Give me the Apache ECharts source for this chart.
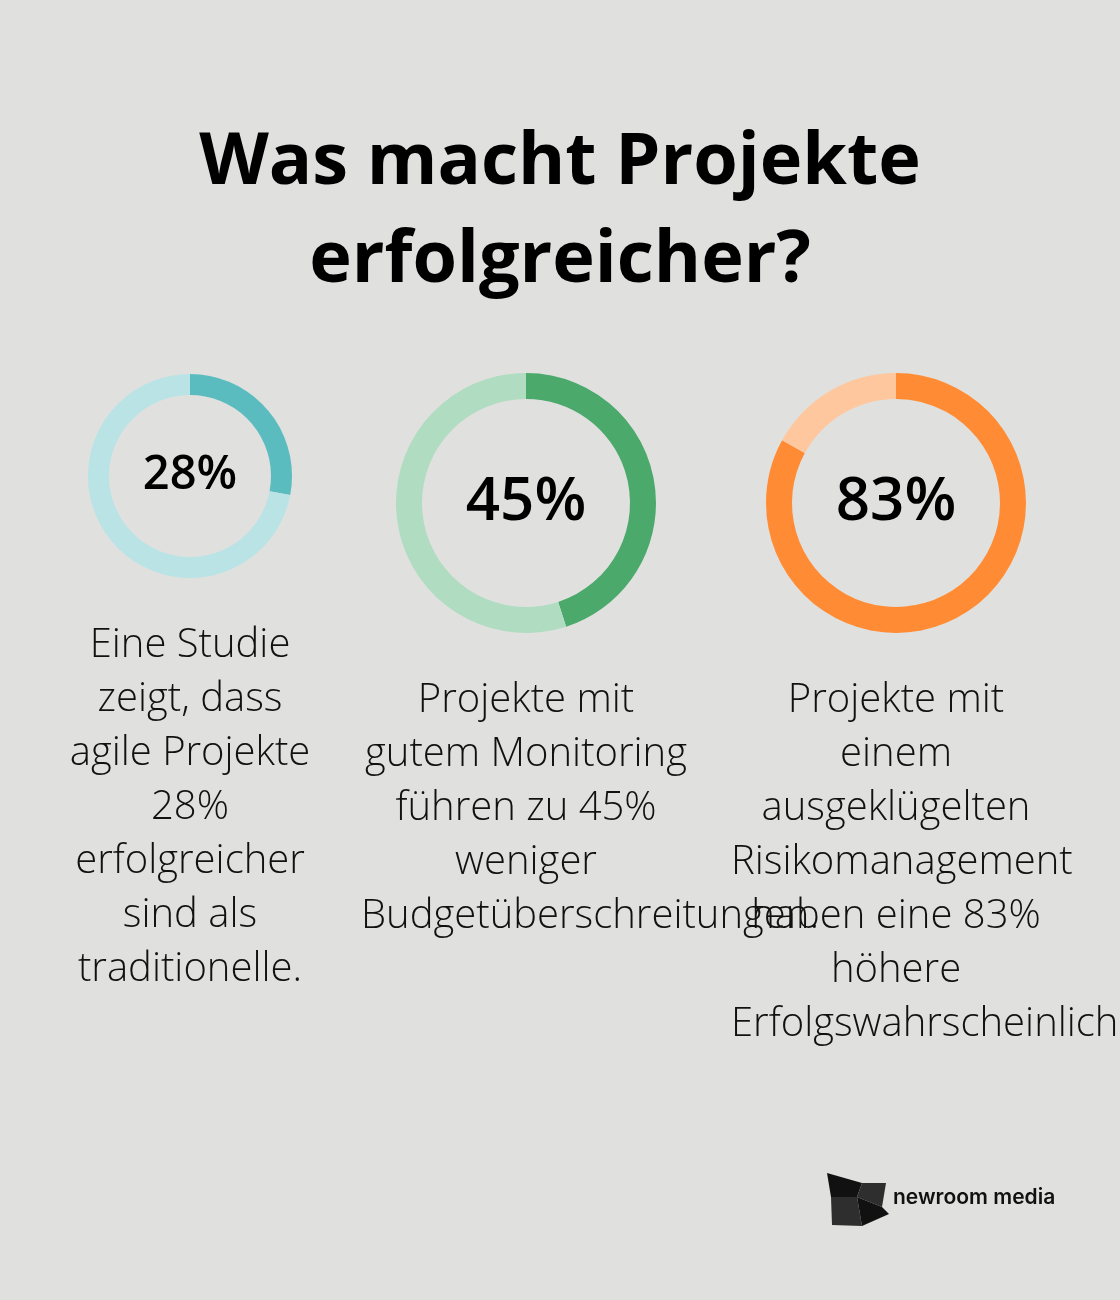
<!DOCTYPE html>
<html>
<head>
<meta charset="utf-8">
<script src="https://cdn.jsdelivr.net/npm/echarts@6/dist/echarts.min.js"></script>
<style>
html,body{margin:0;padding:0;background:#e0e1df;}
#c{width:1120px;height:1300px;}
</style>
</head>
<body>
<div id="c"></div>
<script>
// ---- data ----
const titleLines = ["Was macht Projekte", "erfolgreicher?"];
const values = [28, 45, 83];
const valueLabels = ["28%", "45%", "83%"];
const descriptions = [
  ["Eine Studie", "zeigt, dass", "agile Projekte", "28%", "erfolgreicher", "sind als", "traditionelle."],
  ["Projekte mit", "gutem Monitoring", "führen zu 45%", "weniger", "Budgetüberschreitungen."],
  ["Projekte mit", "einem", "ausgeklügelten", "Risikomanagement", "haben eine 83%", "höhere", "Erfolgswahrscheinlichkeit."]
];
const brand = "newroom media";

// ---- layout / style ----
const darkColors = ["#5bbcc0", "#4ba96c", "#ff8c35"];
const lightColors = ["#b9e3e5", "#b0dcc1", "#ffc79d"];
const centers = [[190, 476], [526, 503], [896, 503]];
const radii = [[81, 102], [104, 130], [104, 130]];
const labelSizes = [47, 60, 60];
const descCenterY = [646, 701, 701];
const boxWidth = 330;

const chart = echarts.init(document.getElementById('c'));

const series = values.map((v, i) => ({
  type: 'pie',
  center: centers[i],
  radius: radii[i],
  startAngle: 90,
  clockwise: true,
  silent: true,
  avoidLabelOverlap: false,
  labelLine: {show: false},
  emphasis: {disabled: true},
  data: [
    {value: v, name: valueLabels[i], itemStyle: {color: darkColors[i]},
     label: {show: true, position: 'center', formatter: '{b}',
             fontFamily: 'Open Sans', fontWeight: 600, fontSize: labelSizes[i], color: '#000'}},
    {value: 100 - v, name: 'rest', itemStyle: {color: lightColors[i]}, label: {show: false}}
  ]
}));

const cvs = document.createElement('canvas').getContext('2d');
const descFont = '300 40px "Open Sans"';
cvs.font = descFont;

const graphics = [];
titleLines.forEach((t, k) => {
  graphics.push({
    type: 'text',
    style: {text: t, x: 560, y: 199 + k * 98, textAlign: 'center', textVerticalAlign: 'bottom',
            font: '700 72px "Open Sans"', fill: '#000'}
  });
});
descriptions.forEach((lines, i) => {
  const cx = centers[i][0];
  lines.forEach((ln, k) => {
    const w = cvs.measureText(ln).width;
    const over = w > boxWidth;
    graphics.push({
      type: 'text',
      style: {text: ln, x: over ? cx - boxWidth / 2 : cx, y: descCenterY[i] + k * 54,
              textAlign: over ? 'left' : 'center', textVerticalAlign: 'middle',
              font: descFont, fill: '#111'}
    });
  });
});
// logo
const logoPolys = [
  {pts: [[827,1173],[862,1183],[857,1197],[831,1197]], c: '#111'},
  {pts: [[862,1183],[886,1183],[882,1207],[857,1197]], c: '#2e2e2e'},
  {pts: [[831,1197],[857,1197],[862,1226],[832,1225]], c: '#2e2e2e'},
  {pts: [[857,1197],[882,1207],[889,1214],[862,1226]], c: '#111'}
];
logoPolys.forEach(p => graphics.push({type: 'polygon', shape: {points: p.pts}, style: {fill: p.c}}));
graphics.push({type: 'text', style: {text: brand, x: 893, y: 1198, textVerticalAlign: 'middle',
  font: '600 21px "Inter"', fill: '#111'}});

chart.setOption({
  backgroundColor: '#e0e1df',
  animation: false,
  series: series,
  graphic: graphics
});
</script>
</body>
</html>
